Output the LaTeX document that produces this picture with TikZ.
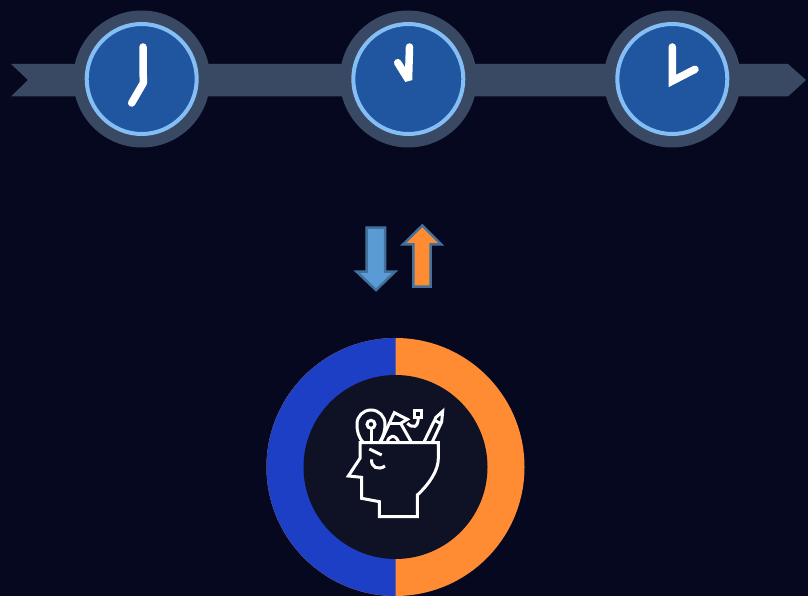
\documentclass[tikz,border=0pt]{standalone}
\definecolor{bg}{HTML}{060820}
\definecolor{band}{HTML}{394963}
\definecolor{face}{HTML}{20569F}
\definecolor{rim}{HTML}{85BDF5}
\definecolor{dblue}{HTML}{1C3FC6}
\definecolor{dorange}{HTML}{FF8C33}
\definecolor{dcore}{HTML}{0F1225}
\definecolor{arrowblue}{HTML}{5B9BD5}
\definecolor{arrowedge}{HTML}{41719C}
\tikzset{
  clockback/.style={circle,fill=band,minimum size=137pt,inner sep=0pt,outer sep=0pt},
  clockface/.style={circle,fill=face,draw=rim,line width=4pt,minimum size=110pt,inner sep=0pt},
  hand/.style={draw=white,line width=7.5pt,line cap=round,line join=bevel},
  bigarrow/.style={draw=arrowedge,line width=2.5pt,line join=miter},
  iconline/.style={draw=white,line width=3pt,line join=miter,line cap=butt}
}
\begin{document}
\begin{tikzpicture}[x=1pt,y=-1pt]
\useasboundingbox (0,0) rectangle (808,596);
\fill[bg] (0,0) rectangle (808,596);
\fill[band] (11,64) -- (788,64) -- (806,80) -- (788,96.5) -- (11,96.5) -- (28,80) -- cycle;
\node[clockback] (c1b) at (141.7,79) {};
\node[clockback] (c2b) at (408.3,79) {};
\node[clockback] (c3b) at (672.3,79) {};
\node[clockface] (c1) at (141.7,79) {};
\node[clockface] (c2) at (408.3,79) {};
\node[clockface] (c3) at (672.3,79) {};
\draw[hand] (143,47) -- (143.3,83) -- (131.7,103);
\draw[hand] (397.7,62.7) -- (408.5,80) -- (409.5,47);
\draw[hand,line join=miter,miter limit=3] (672.3,47) -- (672.3,81) -- (695,69.3);
\draw[bigarrow,fill=arrowblue] (366.7,227.7) -- (385,227.7) -- (385,271.7) -- (395,271.7) -- (376,290) -- (356.7,271.7) -- (366.7,271.7) -- cycle;
\draw[bigarrow,fill=dorange] (413.3,286.7) -- (430.7,286.7) -- (430.7,244.3) -- (441.2,244.3) -- (422.3,225.5) -- (403.2,244.3) -- (413.3,244.3) -- cycle;
\node[circle,fill=dorange,minimum size=258pt,inner sep=0pt] (ring) at (395.5,467) {};
\begin{scope}
\clip (260,330) rectangle (395.5,600);
\node[circle,fill=dblue,minimum size=258pt,inner sep=0pt] (half) at (395.5,467) {};
\end{scope}
\node[circle,fill=dcore,minimum size=184pt,inner sep=0pt] (core) at (395.5,467) {};
\begin{scope}[shift={(330,390)},x=0.3333pt,y=-0.3333pt]
\draw[iconline] (90,158) -- (325,158) -- (325,205) .. controls (325,240) and (300,280) .. (262,315) -- (262,380) -- (148,380) -- (148,335) -- (95,325) -- (95,262) -- (55,258) -- (90,205) -- cycle;
\draw[iconline] (118,177) -- (155,195);
\draw[iconline] (125,208) .. controls (122,232) and (145,242) .. (165,228);
\draw[iconline] (100,158) .. controls (85,140) and (81,125) .. (81,102) .. controls (81,78) and (100,60) .. (123,60) .. controls (146,60) and (165,78) .. (165,102) .. controls (165,125) and (160,140) .. (148,158);
\draw[iconline] (123,103) circle[radius=12];
\draw[iconline] (123,115) -- (123,158);
\draw[iconline] (172,158) .. controls (174,138) and (195,128) .. (207,158);
\draw[iconline] (152,156) -- (178,100) -- (193,68) -- (232,88) -- (212,100) -- (246,160);
\draw[iconline] (178,100) -- (212,100);
\draw[iconline] (232,100) .. controls (248,115) and (265,115) .. (265,81);
\draw[iconline] (254,62) rectangle (276,81);
\draw[iconline] (282,156) -- (318,82) -- (338,64) -- (335,96) -- (305,160);
\draw[iconline] (312,90) -- (335,102);
\end{scope}
\end{tikzpicture}
\end{document}
